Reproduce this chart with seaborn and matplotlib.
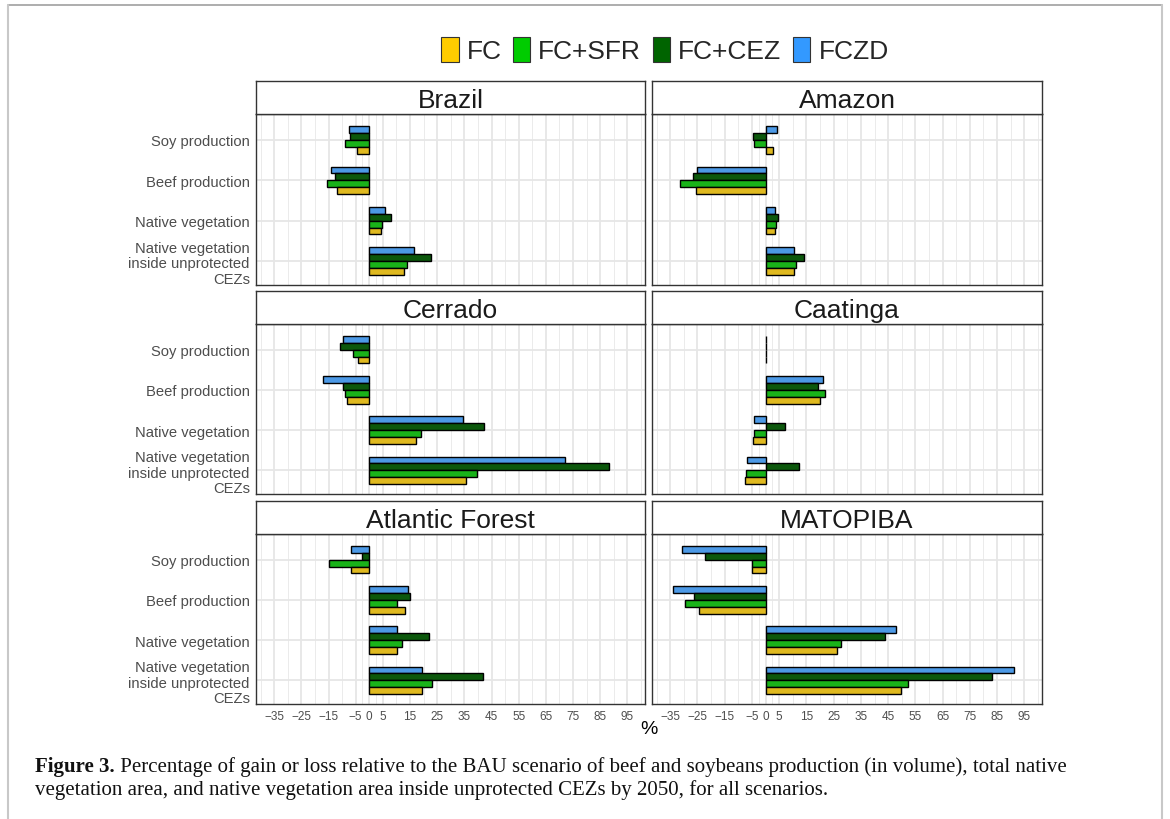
import numpy as np
import pandas as pd
import seaborn as sns
import matplotlib.pyplot as plt
from matplotlib.patches import Patch
from matplotlib.lines import Line2D

# ---------------- data ----------------
regions = ["Brazil", "Amazon", "Cerrado", "Caatinga", "Atlantic Forest", "MATOPIBA"]
indicators = ["Soy production", "Beef production", "Native vegetation",
              "Native vegetation\ninside unprotected\nCEZs"]
scenarios = ["FC", "FC+SFR", "FC+CEZ", "FCZD"]
colors = ["#FFCC00", "#00CC00", "#006400", "#3399FF"]

# each row: indicator; columns: FC, FC+SFR, FC+CEZ, FCZD  (% vs BAU)
brazil = [[-4.7, -9.0, -7.1, -7.6],
          [-12.0, -15.5, -12.8, -14.0],
          [4.4, 4.8, 7.9, 5.8],
          [12.8, 13.9, 22.8, 16.6]]
amazon = [[2.6, -4.4, -4.7, 4.1],
          [-25.4, -31.4, -26.6, -25.0],
          [3.3, 3.7, 4.4, 3.3],
          [10.4, 11.2, 14.1, 10.4]]
cerrado = [[-4.1, -6.0, -10.6, -9.7],
           [-8.1, -8.8, -9.5, -16.9],
           [17.2, 18.9, 42.1, 34.4],
           [35.7, 39.5, 88.2, 71.9]]
caatinga = [[0.0, 0.0, 0.0, 0.0],
            [19.9, 21.7, 19.3, 21.1],
            [-4.5, -4.3, 7.2, -4.1],
            [-7.6, -7.2, 12.2, -6.8]]
atlantic = [[-6.6, -14.9, -2.7, -6.8],
            [13.1, 10.3, 14.9, 14.1],
            [10.3, 12.2, 21.9, 10.2],
            [19.3, 23.1, 41.7, 19.3]]
matopiba = [[-4.8, -4.8, -22.1, -30.6],
            [-24.6, -29.5, -26.2, -33.9],
            [26.3, 27.6, 44.0, 48.0],
            [49.7, 52.3, 83.2, 91.1]]
region_values = [brazil, amazon, cerrado, caatinga, atlantic, matopiba]

major_ticks = [-35, -25, -15, -5, 0, 5, 15, 25, 35, 45, 55, 65, 75, 85, 95]
minor_ticks = [-40, -30, -20, -10, -2.5, 2.5, 10, 20, 30, 40, 50, 60, 70, 80, 90, 100]

caption_bold = "Figure 3."
caption_line1 = (" Percentage of gain or loss relative to the BAU scenario of beef and soybeans "
                 "production (in volume), total native")
caption_line2 = ("vegetation area, and native vegetation area inside unprotected CEZs by 2050, "
                 "for all scenarios.")

rows = []
for reg, vals in zip(regions, region_values):
    for ind, rowvals in zip(indicators, vals):
        for sc, v in zip(scenarios, rowvals):
            rows.append({"region": reg, "indicator": ind, "scenario": sc, "value": v})
df = pd.DataFrame(rows)

# ---------------- style ----------------
sns.set_theme(style="white")
plt.rcParams["font.family"] = ["Liberation Sans", "DejaVu Sans"]

W, H = 1170, 820
fig = plt.figure(figsize=(W / 100, H / 100), dpi=100)
fig.patch.set_facecolor("white")

def fx(px):
    return px / W

def fy(py):
    return 1 - py / H

col_x = [(256, 645), (652, 1042)]
row_y = [(115, 286), (325, 495), (535, 705)]
strip_h = 33
palette = dict(zip(scenarios, colors))
draw_order = scenarios[::-1]  # FCZD on top, FC at bottom
spine_col = "#333333"
tick_col = "#4D4D4D"

for i, reg in enumerate(regions):
    r, c = divmod(i, 2)
    x0, x1 = col_x[c]
    y0, y1 = row_y[r]
    ax = fig.add_axes([fx(x0), fy(y1), fx(x1 - x0), (y1 - y0) / H])
    sub = df[df["region"] == reg]
    sns.barplot(data=sub, x="value", y="indicator", hue="scenario",
                hue_order=draw_order, order=indicators, palette=palette,
                orient="h", width=0.68, edgecolor="black", linewidth=1.0,
                errorbar=None, legend=False, ax=ax, zorder=3)
    ax.set_xlim(-41.7, 101.5)
    ax.set_ylim(3.59, -0.64)
    ax.set_xticks(major_ticks)
    ax.set_xticks(minor_ticks, minor=True)
    ax.grid(True, which="major", axis="both", color="#E6E6E6", linewidth=1.3, zorder=0)
    ax.grid(True, which="minor", axis="x", color="#EBEBEB", linewidth=0.7, zorder=0)
    ax.set_axisbelow(True)
    ax.set_xlabel("")
    ax.set_ylabel("")
    for s in ax.spines.values():
        s.set_visible(True)
        s.set_color(spine_col)
        s.set_linewidth(1.0)
    ax.tick_params(axis="both", which="major", length=3, width=0.8, color=tick_col,
                   labelcolor=tick_col, direction="out")
    ax.tick_params(axis="both", which="minor", length=0)
    ax.tick_params(axis="x", labelsize=8.5, pad=1)
    ax.tick_params(axis="y", labelsize=10.6, pad=1.5)
    if c == 1:
        ax.tick_params(axis="y", left=False, labelleft=False)
    else:
        for lab in ax.get_yticklabels():
            lab.set_linespacing(1.15)
    if r < 2:
        ax.tick_params(axis="x", bottom=False, labelbottom=False)

    sax = fig.add_axes([fx(x0), fy(y0), fx(x1 - x0), strip_h / H])
    sax.set_xticks([])
    sax.set_yticks([])
    sax.set_facecolor("white")
    for s in sax.spines.values():
        s.set_visible(True)
        s.set_color(spine_col)
        s.set_linewidth(1.0)
    sax.text(0.5, 0.42, reg, ha="center", va="center", fontsize=19,
             color="#1A1A1A", transform=sax.transAxes)

# legend
handles = [Patch(facecolor=col, edgecolor="#333333", linewidth=0.8) for col in colors]
fig.legend(handles, scenarios, loc="center", bbox_to_anchor=(fx(665), fy(51)),
           ncol=4, frameon=False, fontsize=19, handlelength=0.65, handleheight=1.1,
           handletextpad=0.3, columnspacing=0.45, borderpad=0)

# x label
fig.text(fx(649), fy(730), "%", ha="center", va="center", fontsize=14, color="black")

# page border
fig.add_artist(Line2D([fx(8), fx(1162)], [fy(6), fy(6)], color="#A0A0A0", linewidth=1.2))
fig.add_artist(Line2D([fx(8), fx(8)], [fy(6), 0], color="#C8C8C8", linewidth=1.5))
fig.add_artist(Line2D([fx(1162), fx(1162)], [fy(6), 0], color="#C8C8C8", linewidth=1.5))

# caption
serif = ["Liberation Serif", "DejaVu Serif"]
cap_fs = 15
t1 = fig.text(fx(35), fy(767), caption_bold, ha="left", va="center", fontsize=cap_fs,
              fontweight="bold", family=serif, color="#111111")
fig.canvas.draw()
bb = t1.get_window_extent(renderer=fig.canvas.get_renderer())
x_after = bb.x1 / W
fig.text(x_after, fy(767), caption_line1, ha="left", va="center", fontsize=cap_fs,
         family=serif, color="#111111")
fig.text(fx(35), fy(790), caption_line2, ha="left", va="center", fontsize=cap_fs,
         family=serif, color="#111111")

fig.savefig("out.png", dpi=100, facecolor="white")
